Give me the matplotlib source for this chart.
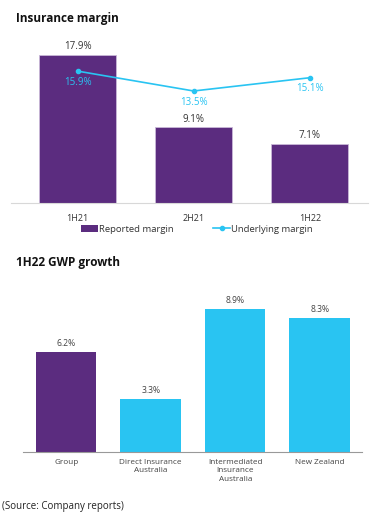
import numpy as np
import matplotlib.pyplot as plt
from matplotlib.lines import Line2D
from matplotlib.patches import Patch

# top chart data
periods = ['1H21', '2H21', '1H22']
reported = [17.9, 9.1, 7.1]
underlying = [15.9, 13.5, 15.1]

# bottom chart data
segments = ['Group', 'Direct Insurance\nAustralia', 'Intermediated\nInsurance\nAustralia', 'New Zealand']
gwp_growth = [6.2, 3.3, 8.9, 8.3]

purple = '#5b2c7f'
blue = '#29c4f2'
grey_axis = '#d8d8d8'

plt.rcParams['font.family'] = ['Open Sans', 'DejaVu Sans']

fig = plt.figure(figsize=(3.72, 5.16), dpi=100)

# ---- Insurance margin
ax1 = fig.add_axes([0.0296, 0.607, 0.96, 0.321])
x = np.arange(len(periods))
ax1.bar(x, reported, width=0.66, color=purple, edgecolor='#c9b8d8', linewidth=0.6, zorder=2)
ax1.plot(x, underlying, color=blue, linewidth=1.2, marker='o', markersize=3, zorder=3)
for i, v in enumerate(reported):
    ax1.annotate('%.1f%%' % v, (x[i], v), xytext=(0, 2), textcoords='offset points',
                 ha='center', va='bottom', fontsize=7, color='#333333')
for i, v in enumerate(underlying):
    ax1.annotate('%.1f%%' % v, (x[i], v), xytext=(0, -4), textcoords='offset points',
                 ha='center', va='top', fontsize=7, color=blue)
ax1.set_xlim(-0.573, 2.503)
ax1.set_ylim(0, 20)
ax1.set_xticks(x)
ax1.set_xticklabels(periods, fontsize=6.5, color='#333333')
ax1.tick_params(axis='x', length=0, pad=8)
ax1.set_yticks([])
for s in ['top', 'right', 'left']:
    ax1.spines[s].set_visible(False)
ax1.spines['bottom'].set_color(grey_axis)
ax1.spines['bottom'].set_linewidth(0.8)

handles = [Patch(facecolor=purple, label='Reported margin'),
           Line2D([0], [0], color=blue, marker='o', markersize=3, linewidth=1.2, label='Underlying margin')]
fig.legend(handles=handles, loc='center', bbox_to_anchor=(0.53, 0.556), ncol=2, frameon=False,
           fontsize=6.8, handlelength=1.8, handletextpad=0.1, columnspacing=4.2,
           labelcolor='#333333')

fig.text(0.043, 0.965, 'Insurance margin', fontsize=8.5, fontweight='bold', va='center', color='#111111')

# ---- 1H22 GWP growth
ax2 = fig.add_axes([0.062, 0.124, 0.911, 0.312])
x2 = np.arange(len(segments))
colors = [purple] + [blue] * (len(segments) - 1)
ax2.bar(x2, gwp_growth, width=0.715, color=colors, zorder=2)
for i, v in enumerate(gwp_growth):
    ax2.annotate('%.1f%%' % v, (x2[i], v), xytext=(0, 3), textcoords='offset points',
                 ha='center', va='bottom', fontsize=6.2, color='#444444')
ax2.set_xlim(-0.51, 3.5)
ax2.set_ylim(0, 10)
ax2.set_xticks(x2)
ax2.set_xticklabels(segments, fontsize=5.9, color='#444444', linespacing=1.3)
ax2.tick_params(axis='x', length=0, pad=5)
ax2.set_yticks([])
for s in ['top', 'right', 'left']:
    ax2.spines[s].set_visible(False)
ax2.spines['bottom'].set_color('#999999')
ax2.spines['bottom'].set_linewidth(0.8)

fig.text(0.043, 0.491, '1H22 GWP growth', fontsize=8.5, fontweight='bold', va='center', color='#111111')
fig.text(0.005, 0.019, '(Source: Company reports)', fontsize=7, va='center', color='#222222')

fig.savefig('out.png', dpi=100)
